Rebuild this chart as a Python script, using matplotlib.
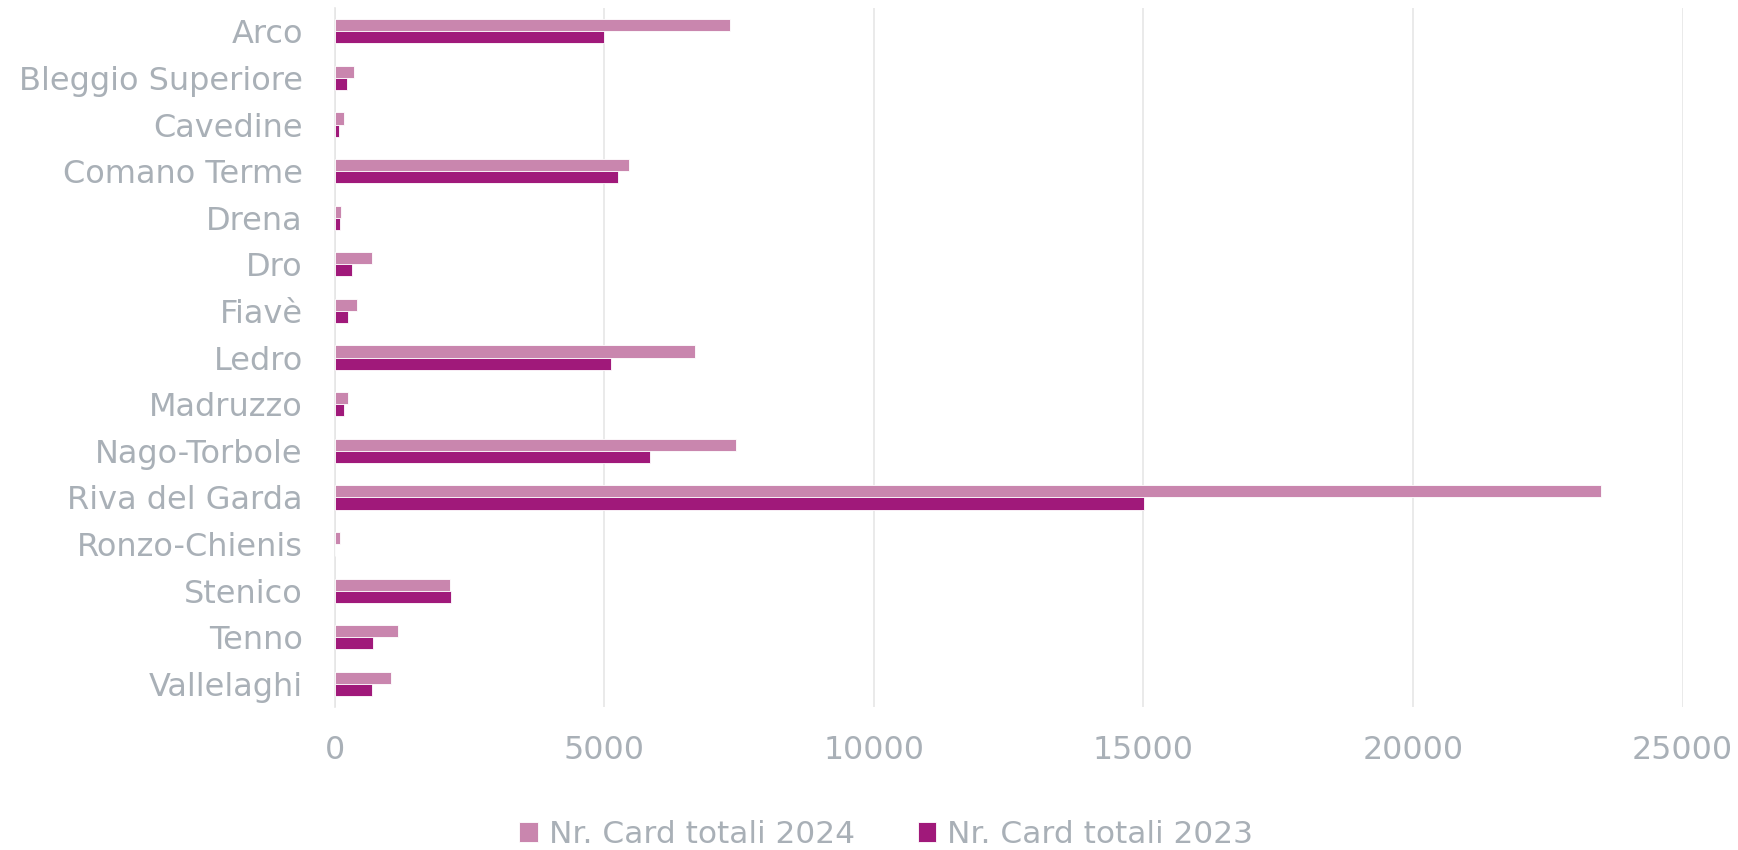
import matplotlib
matplotlib.use("Agg")
import matplotlib.pyplot as plt
import numpy as np

categories = ["Arco", "Bleggio Superiore", "Cavedine", "Comano Terme", "Drena", "Dro",
              "Fiavè", "Ledro", "Madruzzo", "Nago-Torbole", "Riva del Garda",
              "Ronzo-Chienis", "Stenico", "Tenno", "Vallelaghi"]
cards_2024 = [7330, 348, 171, 5460, 114, 690, 419, 6683, 249, 7451, 23490, 100, 2147, 1166, 1038]
cards_2023 = [5000, 235, 71, 5254, 92, 313, 249, 5133, 164, 5844, 15010, 0, 2161, 704, 697]
series_labels = ["Nr. Card totali 2024", "Nr. Card totali 2023"]
xticks = [0, 5000, 10000, 15000, 20000, 25000]

c2024 = "#C986AE"
c2023 = "#A0197A"
txt = "#A9B0B7"
grid = "#E6E6E6"

plt.rcParams['font.family'] = ['DejaVu Sans']

fig = plt.figure(figsize=(17.38, 8.5), dpi=100)
ax = fig.add_axes([0.1926, 0.168, 0.9681 - 0.1926, 0.9906 - 0.168])

y = np.arange(len(categories))
h = 0.26
ax.barh(y - h / 2, cards_2024, height=h, color=c2024, edgecolor="white", linewidth=0.6,
        label=series_labels[0], zorder=3)
ax.barh(y + h / 2, cards_2023, height=h, color=c2023, edgecolor="white", linewidth=0.6,
        label=series_labels[1], zorder=3)

ax.set_ylim(len(categories) - 0.5, -0.5)
ax.set_xlim(0, 25000)
ax.set_yticks(y)
ax.set_yticklabels(categories)
ax.set_xticks(xticks)
ax.set_xticklabels([str(t) for t in xticks])

ax.tick_params(axis='y', length=0, pad=23, labelsize=23, labelcolor=txt)
ax.tick_params(axis='x', length=0, pad=20, labelsize=22.8, labelcolor=txt)

for s in ["top", "right", "bottom"]:
    ax.spines[s].set_visible(False)
ax.spines["left"].set_color(grid)
ax.spines["left"].set_linewidth(1.2)
ax.xaxis.grid(True, color=grid, linewidth=1.2, zorder=0)
ax.set_axisbelow(True)

leg = fig.legend(loc="center", bbox_to_anchor=(0.51, 0.018), ncol=2, frameon=False,
                 fontsize=22.5, handlelength=0.6, handleheight=0.6, handletextpad=0.35,
                 columnspacing=2.0, labelcolor=txt)

fig.savefig("out.png", dpi=100, facecolor="white")
